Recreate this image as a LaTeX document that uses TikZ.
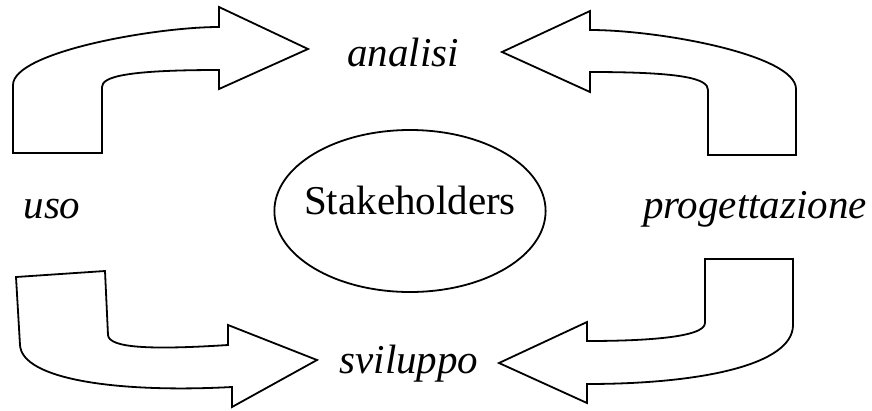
\documentclass[tikz,border=0pt]{standalone}
\usepackage{fontspec}
\setmainfont{Liberation Serif}
\usetikzlibrary{shapes.geometric}
\tikzset{
	phase/.style={font=\fontsize{41}{49}\selectfont\itshape,anchor=base,inner sep=0pt},
	bigarrow/.style={draw,line width=1.8pt,fill=white},
	centre/.style={draw,ellipse,line width=1.8pt,minimum width=270pt,minimum height=162pt,
		inner xsep=-10pt,inner ysep=0pt,font=\fontsize{41}{49}\selectfont,
		text height=0.8em,text depth=0.15em}
}

\begin{document}
\begin{tikzpicture}[x=1pt,y=-1pt]
\useasboundingbox (0,0) rectangle (872,410);

\node[centre] (stake) at (410,211) {Stakeholders};

\node[phase] (analisi) at (403,66) {analisi};
\node[phase] (uso) at (52,218) {uso};
\node[phase] (prog) at (755,218) {progettazione};
\node[phase] (svil) at (409,373) {sviluppo};

% uso -> analisi
\draw[bigarrow] (13,153) -- (102,153) -- (102,87)
	.. controls (102,77) and (125,70) .. (219,70) -- (219,89) -- (308,49)
	-- (219,7) -- (219,27) .. controls (155,27) and (13,52) .. (13,85) -- cycle;
% progettazione -> analisi
\draw[bigarrow] (796,155) -- (708,155) -- (708,90)
	.. controls (708,79) and (685,72) .. (590,72) -- (590,92) -- (502,52)
	-- (590,11) -- (590,30) .. controls (660,30) and (796,55) .. (796,89) -- cycle;
% uso -> sviluppo
\draw[bigarrow] (16,277) -- (105,271) -- (108,335)
	.. controls (109,348) and (150,350) .. (228,345) -- (228,325) -- (317,360)
	-- (232,407) -- (232,387) .. controls (120,393) and (22,380) .. (20,345) -- cycle;
% progettazione -> sviluppo
\draw[bigarrow] (705,259) -- (793,259) -- (793,325)
	.. controls (793,365) and (700,384) .. (587,384) -- (587,403) -- (499,363)
	-- (587,322) -- (587,341) .. controls (640,341) and (705,338) .. (705,323) -- cycle;

\end{tikzpicture}
\end{document}
